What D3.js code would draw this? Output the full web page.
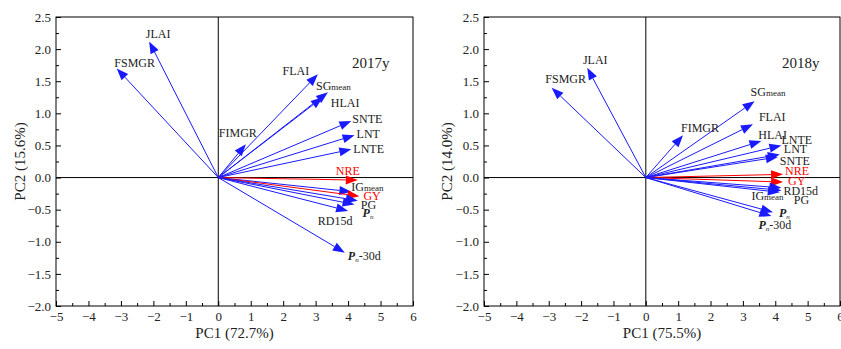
<!DOCTYPE html>
<html>
<head>
<meta charset="utf-8">
<script src="https://cdn.jsdelivr.net/npm/d3@7"></script>
<style>
  body { margin: 0; background: #fff; }
</style>
</head>
<body>
<svg id="chart" width="841" height="349" font-family="'Liberation Serif', 'Times New Roman', Times, serif"></svg>
<script>
// variable names (sub part after "_", italic P for "Pn")
const vars2017 = ['JLAI', 'FSMGR', 'FLAI', 'SG_mean', 'HLAI', 'SNTE', 'LNT', 'LNTE', 'FIMGR',
                  'NRE', 'IG_mean', 'GY', 'PG', 'Pn', 'RD15d', 'Pn-30d'];
const pc1_2017 = [-2.13, -3.13, 3.07, 3.38, 3.22, 4.10, 4.20, 4.10, 0.85, 4.30, 4.10, 4.35, 4.30, 4.20, 4.00, 3.90];
const pc2_2017 = [2.12, 1.70, 1.61, 1.33, 1.25, 0.88, 0.66, 0.44, 0.52, -0.04, -0.22, -0.29, -0.36, -0.42, -0.52, -1.17];

const vars2018 = ['JLAI', 'FSMGR', 'SG_mean', 'FLAI', 'FIMGR', 'HLAI', 'LNTE', 'LNT', 'SNTE',
                  'NRE', 'GY', 'RD15d', 'IG_mean', 'PG', 'Pn', 'Pn-30d'];
const pc1_2018 = [-1.81, -2.91, 3.36, 3.31, 1.15, 3.57, 4.19, 4.14, 4.08, 4.24, 4.24, 4.19, 4.19, 4.14, 3.93, 3.88];
const pc2_2018 = [1.71, 1.40, 1.19, 0.83, 0.66, 0.57, 0.50, 0.36, 0.32, 0.05, -0.07, -0.16, -0.20, -0.23, -0.54, -0.60];

const redVars = ['NRE', 'GY'];

const xTicks = d3.range(-5, 7, 1);
const yTicks = d3.range(-2.0, 2.51, 0.5);

// label placement around arrow tips: [dx, dy, anchor]
const labelPos2017 = {
  'JLAI': [9, -7, 'middle'], 'FSMGR': [18, -5, 'middle'], 'FLAI': [-22, -3, 'middle'],
  'SG_mean': [-12, -6, 'start'], 'HLAI': [8, 6, 'start'], 'SNTE': [1, -2, 'start'],
  'LNT': [2, -1, 'start'], 'LNTE': [2, 0, 'start'], 'FIMGR': [-8, -11, 'middle'],
  'NRE': [-10, -9, 'middle'], 'IG_mean': [0, -5, 'start'], 'GY': [4, 0, 'start'],
  'PG': [3, 4, 'start'], 'Pn': [8, 8, 'start'], 'RD15d': [-13, 10, 'middle'], 'Pn-30d': [3, 3, 'start']
};
const labelPos2018 = {
  'JLAI': [8, -8, 'middle'], 'FSMGR': [14, -9, 'middle'], 'SG_mean': [-4, -9, 'start'],
  'FLAI': [6, -7, 'start'], 'FIMGR': [17, -7, 'middle'], 'HLAI': [-3, -6, 'start'],
  'LNTE': [0, -5, 'start'], 'LNT': [4, -5, 'start'], 'SNTE': [2, 4, 'start'],
  'NRE': [2, -3, 'start'], 'GY': [5, -1, 'start'], 'RD15d': [2, 3, 'start'],
  'IG_mean': [-30, 6, 'start'], 'PG': [14, 8, 'start'], 'Pn': [6, 1, 'start'], 'Pn-30d': [-13, 9, 'start']
};

const svg = d3.select('#chart');

function drawPanel(opt) {
  const x = d3.scaleLinear().domain([-5, 6]).range([opt.left, opt.right]);
  const y = d3.scaleLinear().domain([-2, 2.5]).range([306, 17]);
  const g = svg.append('g');

  // frame
  g.append('rect')
    .attr('x', opt.left).attr('y', y(2.5))
    .attr('width', opt.right - opt.left).attr('height', y(-2) - y(2.5))
    .attr('fill', 'none').attr('stroke', '#000').attr('stroke-width', 1);

  // zero lines
  g.append('line').attr('x1', opt.left).attr('x2', opt.right)
    .attr('y1', y(0)).attr('y2', y(0)).attr('stroke', '#000');
  g.append('line').attr('x1', x(0)).attr('x2', x(0))
    .attr('y1', y(2.5)).attr('y2', y(-2)).attr('stroke', '#000');

  // axes, ticks pointing inward
  const xAxis = g.append('g').attr('transform', `translate(0,${y(-2)})`)
    .call(d3.axisBottom(x).tickValues(xTicks).tickSize(-5).tickPadding(6).tickFormat(d3.format('d')));
  g.append('g').attr('transform', `translate(0,${y(-2)})`)
    .call(d3.axisBottom(x).tickValues(d3.range(-4.5, 6, 1)).tickSize(-3).tickFormat(''));

  const yAxis = g.append('g').attr('transform', `translate(${opt.left},0)`)
    .call(d3.axisLeft(y).tickValues(yTicks).tickSize(-5).tickPadding(5).tickFormat(d3.format('.1f')));
  g.append('g').attr('transform', `translate(${opt.left},0)`)
    .call(d3.axisLeft(y).tickValues(d3.range(-1.75, 2.5, 0.5)).tickSize(-3).tickFormat(''));

  g.selectAll('.domain').remove();
  g.selectAll('g[font-family]').attr('font-family', null);
  g.selectAll('.tick line').attr('stroke', '#000');
  g.selectAll('.tick text').attr('font-size', 13).attr('fill', '#222');

  // axis titles
  g.append('text')
    .attr('x', (opt.left + opt.right) / 2).attr('y', 338)
    .attr('text-anchor', 'middle').attr('font-size', 15).attr('fill', '#222')
    .text(opt.xTitle);
  g.append('text')
    .attr('transform', `translate(${opt.yTitleX},${(y(2.5) + y(-2)) / 2}) rotate(-90)`)
    .attr('text-anchor', 'middle').attr('font-size', 15).attr('fill', '#222')
    .text(opt.yTitle);

  // year title
  g.append('text')
    .attr('x', opt.titleX).attr('y', 68)
    .attr('font-size', 15).attr('fill', '#222')
    .text(opt.title);

  // loading arrows
  const data = opt.vars.map((v, i) => ({ name: v, pc1: opt.pc1[i], pc2: opt.pc2[i] }));
  const headLen = 12, headW = 4.5;

  data.forEach(d => {
    const col = redVars.includes(d.name) ? '#ff0000' : '#1a1aff';
    const x0 = x(0), y0 = y(0), x1 = x(d.pc1), y1 = y(d.pc2);
    const len = Math.hypot(x1 - x0, y1 - y0);
    const ux = (x1 - x0) / len, uy = (y1 - y0) / len;
    const bx = x1 - ux * headLen, by = y1 - uy * headLen;
    g.append('line')
      .attr('x1', x0).attr('y1', y0).attr('x2', bx).attr('y2', by)
      .attr('stroke', col).attr('stroke-width', 1);
    g.append('path')
      .attr('d', `M${x1},${y1}L${bx - uy * headW},${by + ux * headW}L${bx + uy * headW},${by - ux * headW}Z`)
      .attr('fill', col);

    const p = opt.labels[d.name];
    const t = g.append('text')
      .attr('x', x1 + p[0]).attr('y', y1 + p[1] + 4)
      .attr('text-anchor', p[2])
      .attr('font-size', 12)
      .attr('fill', redVars.includes(d.name) ? '#ff0000' : '#222');
    if (d.name.includes('_')) {
      const parts = d.name.split('_');
      t.append('tspan').text(parts[0]);
      t.append('tspan').attr('font-size', 9).text(parts[1]);
    } else if (d.name.startsWith('Pn')) {
      t.append('tspan').attr('font-style', 'italic').attr('font-weight', 'bold').text('P');
      t.append('tspan').attr('font-style', 'italic').attr('font-size', 7).attr('dy', 2).text('n');
      if (d.name.length > 2) t.append('tspan').attr('dy', -2).text(d.name.slice(2));
    } else {
      t.text(d.name);
    }
  });
}

drawPanel({
  left: 56, right: 413, vars: vars2017, pc1: pc1_2017, pc2: pc2_2017,
  labels: labelPos2017, title: '2017y', titleX: 352,
  xTitle: 'PC1 (72.7%)', yTitle: 'PC2 (15.6%)', yTitleX: 25
});
drawPanel({
  left: 484, right: 840, vars: vars2018, pc1: pc1_2018, pc2: pc2_2018,
  labels: labelPos2018, title: '2018y', titleX: 782,
  xTitle: 'PC1 (75.5%)', yTitle: 'PC2 (14.0%)', yTitleX: 452
});
</script>
</body>
</html>
